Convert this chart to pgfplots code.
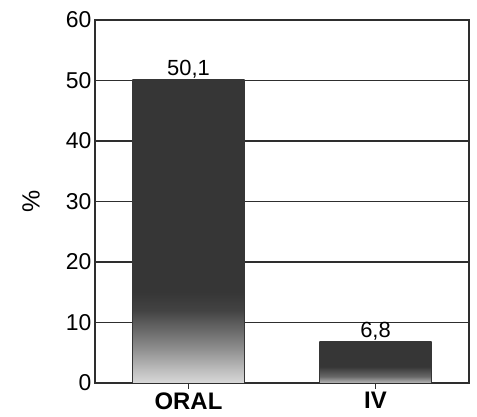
\documentclass[border=0pt]{standalone}
\usepackage{pgfplots}
\pgfplotsset{compat=1.18}
\usepackage{fontspec}
\setmainfont{Liberation Sans}

\definecolor{bardark}{HTML}{363636}
\definecolor{barmid}{HTML}{8a8a8a}
\definecolor{barlight}{HTML}{d8d8d8}
\definecolor{axisgray}{HTML}{2e2e2e}

% vertical shadings: visible part runs from 25bp (bottom) to 75bp (top)
\pgfdeclareverticalshading{oralshade}{100bp}{color(0bp)=(barlight); color(25bp)=(barlight); color(27bp)=(barlight!85!bardark); color(31bp)=(barmid); color(37bp)=(bardark!85!barmid); color(40bp)=(bardark); color(100bp)=(bardark)}
\pgfdeclareverticalshading{ivshade}{100bp}{color(0bp)=(barlight); color(25bp)=(barlight!80!bardark); color(33bp)=(barmid!60!bardark); color(45bp)=(bardark); color(100bp)=(bardark)}

\begin{document}
\begin{tikzpicture}
\begin{axis}[
    name=ax,
    width=374bp, height=363bp, scale only axis,
    xmin=-0.5, xmax=1.5,
    ymin=0, ymax=60,
    ytick={0,10,...,60},
    xtick={0,1}, xticklabels={ORAL,IV},
    xtick pos=bottom, ytick pos=left,
    tick align=inside, major tick length=6bp,
    ytick style={draw=none},
    xtick style={line width=1.3bp, color=axisgray},
    ymajorgrids,
    grid style={line width=1.5bp, color=axisgray},
    axis line style={line width=2bp, color=axisgray},
    /pgf/number format/assume math mode=true,
    /pgf/number format/use comma,
    yticklabel style={font=\fontsize{23}{23}\selectfont},
    xticklabel style={font=\fontsize{24}{24}\selectfont\bfseries},
    ylabel={\%},
    every axis y label/.style={at={(axis description cs:0,0.5)}, xshift=-64bp, rotate=90, anchor=center, font=\fontsize{25}{25}\selectfont},
    ybar, bar width=0.6,
    nodes near coords,
    every node near coord/.append style={font=\fontsize{22}{22}\selectfont, anchor=south, yshift=-2bp},
]
\addplot[bar shift=0pt, draw=bardark, shade, shading=oralshade] coordinates {(0,50.1)};
\addplot[bar shift=0pt, draw=bardark, shade, shading=ivshade] coordinates {(1,6.8)};
\end{axis}
\pgfresetboundingbox
\useasboundingbox ([shift={(-95bp,-34bp)}]ax.south west) rectangle ([shift={(8bp,20bp)}]ax.north east);
\end{tikzpicture}
\end{document}
